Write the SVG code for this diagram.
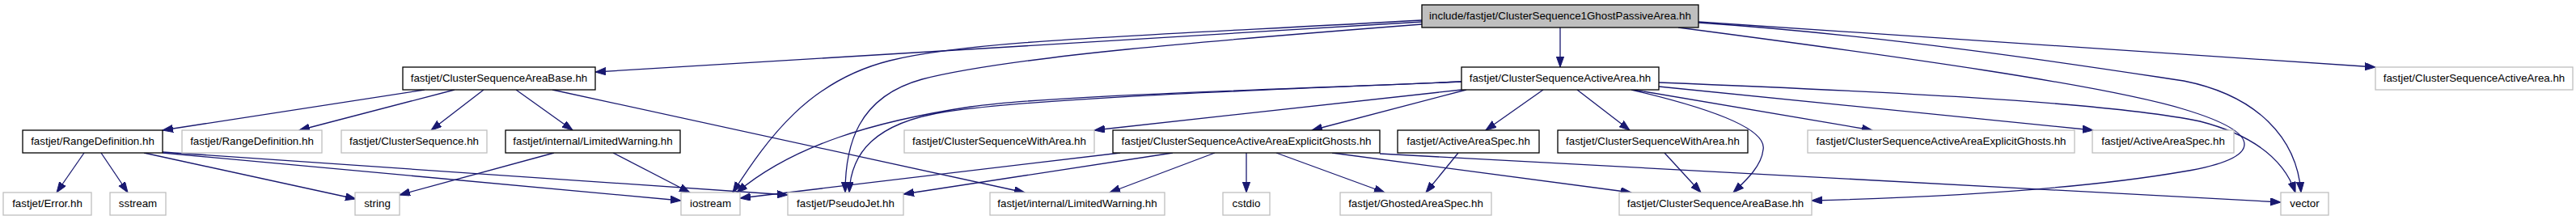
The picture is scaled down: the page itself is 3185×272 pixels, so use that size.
<svg xmlns="http://www.w3.org/2000/svg" width="3185" height="272" viewBox="0 0 3185 272">
<style>
.nb{fill:#fff;stroke:#000;stroke-width:1.3}
.ng{fill:#fff;stroke:#bfbfbf;stroke-width:1.3}
.nt{fill:#bfbfbf;stroke:#000;stroke-width:1.3}
text{font-family:"Liberation Sans",Arial,sans-serif;font-size:13.33px;fill:#000;text-anchor:middle}
.e{fill:none;stroke:#191970;stroke-width:1.3;marker-end:url(#ah)}
</style>
<defs>
<marker id="ah" markerUnits="userSpaceOnUse" markerWidth="14" markerHeight="10" refX="13" refY="4.65" orient="auto">
<path d="M0,0 L13,4.65 L0,9.3 z" fill="#191970" stroke="#191970" stroke-width="1"/>
</marker>
</defs>
<rect width="3185" height="272" fill="#fff"/>
<g id="edges">
<path class="e" d="M1758,27 L736,89"/>
<path class="e" d="M1929,34 L1929,83"/>
<path class="e" d="M1758,25 C1400,45 1200,50 1100,75 C1000,100 950,170 906,238"/>
<path class="e" d="M1758,30 C1500,50 1250,70 1140,98 C1060,120 1045,180 1045,238"/>
<path class="e" d="M2100,27 L2937,83"/>
<path class="e" d="M2100,28 C2350,45 2600,85 2700,100 C2790,118 2840,170 2845,238"/>
<path class="e" d="M2075,34 C2350,70 2600,105 2700,135 C2800,165 2800,195 2700,212 C2550,238 2350,245 2240,248"/>
<path class="e" d="M1807,101 C1550,112 1300,118 1200,132 C1080,150 980,180 911,238"/>
<path class="e" d="M1807,101 C1550,112 1300,120 1170,138 C1080,152 1052,190 1050,238"/>
<path class="e" d="M1807,111 L1353,161"/>
<path class="e" d="M1813,111 L1622,161"/>
<path class="e" d="M1908,111 L1837,161"/>
<path class="e" d="M1950,111 L2015,161"/>
<path class="e" d="M2017,111 C2120,135 2185,160 2180,185 C2178,205 2160,222 2143,238"/>
<path class="e" d="M2020,111 L2315,161"/>
<path class="e" d="M2051,107 L2588,161"/>
<path class="e" d="M2051,102 C2300,112 2600,125 2720,150 C2790,168 2825,200 2838,238"/>
<path class="e" d="M525,111 L201,161"/>
<path class="e" d="M562,111 L370,161"/>
<path class="e" d="M598,111 L533,161"/>
<path class="e" d="M638,111 L708,161"/>
<path class="e" d="M683,111 L1267,238"/>
<path class="e" d="M104,189 L70,238"/>
<path class="e" d="M125,189 L158,238"/>
<path class="e" d="M178,189 L440,246"/>
<path class="e" d="M201,188 L974,241"/>
<path class="e" d="M201,189 L842,248"/>
<path class="e" d="M685,189 L494,241"/>
<path class="e" d="M758,189 L853,238"/>
<path class="e" d="M1385,189 L915,245"/>
<path class="e" d="M1450,189 L1117,240"/>
<path class="e" d="M1502,189 L1372,238"/>
<path class="e" d="M1541,189 L1541,238"/>
<path class="e" d="M1578,189 L1712,238"/>
<path class="e" d="M1647,189 L2017,238"/>
<path class="e" d="M1706,190 L2820,250"/>
<path class="e" d="M2058,189 L2103,238"/>
<path class="e" d="M1803,189 L1763,238"/>
</g>
<g id="n0"><rect class="nt" x="1758" y="6" width="342" height="28"/><text x="1929" y="24">include/fastjet/ClusterSequence1GhostPassiveArea.hh</text></g>
<g id="n1"><rect class="nb" x="498" y="83" width="238" height="28"/><text x="617" y="101">fastjet/ClusterSequenceAreaBase.hh</text></g>
<g id="n2"><rect class="nb" x="1807" y="83" width="244" height="28"/><text x="1929" y="101">fastjet/ClusterSequenceActiveArea.hh</text></g>
<g id="n3"><rect class="ng" x="2937" y="83" width="244" height="28"/><text x="3059" y="101">fastjet/ClusterSequenceActiveArea.hh</text></g>
<g id="n4"><rect class="nb" x="28" y="161" width="173" height="28"/><text x="114.5" y="179">fastjet/RangeDefinition.hh</text></g>
<g id="n5"><rect class="ng" x="225" y="161" width="173" height="28"/><text x="311.5" y="179">fastjet/RangeDefinition.hh</text></g>
<g id="n6"><rect class="ng" x="422" y="161" width="180" height="28"/><text x="512" y="179">fastjet/ClusterSequence.hh</text></g>
<g id="n7"><rect class="nb" x="625" y="161" width="216" height="28"/><text x="733" y="179">fastjet/internal/LimitedWarning.hh</text></g>
<g id="n8"><rect class="ng" x="1118" y="161" width="235" height="28"/><text x="1235.5" y="179">fastjet/ClusterSequenceWithArea.hh</text></g>
<g id="n9"><rect class="nb" x="1376" y="161" width="330" height="28"/><text x="1541" y="179">fastjet/ClusterSequenceActiveAreaExplicitGhosts.hh</text></g>
<g id="n10"><rect class="nb" x="1728" y="161" width="175" height="28"/><text x="1815.5" y="179">fastjet/ActiveAreaSpec.hh</text></g>
<g id="n11"><rect class="nb" x="1926" y="161" width="235" height="28"/><text x="2043.5" y="179">fastjet/ClusterSequenceWithArea.hh</text></g>
<g id="n12"><rect class="ng" x="2235" y="161" width="330" height="28"/><text x="2400" y="179">fastjet/ClusterSequenceActiveAreaExplicitGhosts.hh</text></g>
<g id="n13"><rect class="ng" x="2587" y="161" width="175" height="28"/><text x="2674.5" y="179">fastjet/ActiveAreaSpec.hh</text></g>
<g id="n14"><rect class="ng" x="4" y="238" width="109" height="28"/><text x="58.5" y="256">fastjet/Error.hh</text></g>
<g id="n15"><rect class="ng" x="136" y="238" width="69" height="28"/><text x="170.5" y="256">sstream</text></g>
<g id="n16"><rect class="ng" x="439" y="238" width="55" height="28"/><text x="466.5" y="256">string</text></g>
<g id="n17"><rect class="ng" x="842" y="238" width="73" height="28"/><text x="878.5" y="256">iostream</text></g>
<g id="n18"><rect class="ng" x="974" y="238" width="143" height="28"/><text x="1045.5" y="256">fastjet/PseudoJet.hh</text></g>
<g id="n19"><rect class="ng" x="1224" y="238" width="216" height="28"/><text x="1332" y="256">fastjet/internal/LimitedWarning.hh</text></g>
<g id="n20"><rect class="ng" x="1512" y="238" width="58" height="28"/><text x="1541" y="256">cstdio</text></g>
<g id="n21"><rect class="ng" x="1657" y="238" width="187" height="28"/><text x="1750.5" y="256">fastjet/GhostedAreaSpec.hh</text></g>
<g id="n22"><rect class="ng" x="2002" y="238" width="238" height="28"/><text x="2121" y="256">fastjet/ClusterSequenceAreaBase.hh</text></g>
<g id="n23"><rect class="ng" x="2820" y="238" width="59" height="28"/><text x="2849.5" y="256">vector</text></g>
</svg>
